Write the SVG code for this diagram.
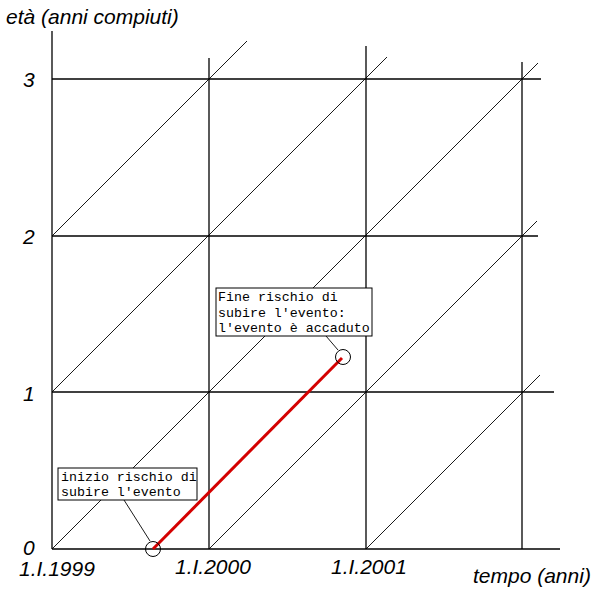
<svg xmlns="http://www.w3.org/2000/svg" width="600" height="600" viewBox="0 0 600 600">
<style>
.ax{stroke:#000;stroke-width:1.3;fill:none}
.dg{stroke:#000;stroke-width:0.9;fill:none}
.lbl{font-family:"Liberation Sans",Arial,sans-serif;font-style:italic;font-size:21px;fill:#000}
.box{fill:#fff;stroke:#000;stroke-width:1}
.mono{font-family:"Liberation Mono","Courier New",monospace;font-size:13.3px;fill:#000}
.circ{fill:none;stroke:#000;stroke-width:1}
</style>
<rect width="600" height="600" fill="#fff"/>
<g id="grid">
<line class="ax" x1="52" y1="31" x2="52" y2="549"/>
<line class="ax" x1="209" y1="58" x2="209" y2="549"/>
<line class="ax" x1="366" y1="46" x2="366" y2="549"/>
<line class="ax" x1="522" y1="62" x2="522" y2="549"/>
<line class="ax" x1="52" y1="549" x2="560" y2="549"/>
<line class="ax" x1="52" y1="392" x2="554" y2="392"/>
<line class="ax" x1="52" y1="236" x2="538" y2="236"/>
<line class="ax" x1="52" y1="79" x2="541" y2="79"/>
<line class="dg" x1="52" y1="549" x2="538" y2="63"/>
<line class="dg" x1="209" y1="549" x2="537" y2="221"/>
<line class="dg" x1="366" y1="549" x2="540" y2="375"/>
<line class="dg" x1="52" y1="392" x2="387" y2="57"/>
<line class="dg" x1="52" y1="236" x2="247" y2="41"/>
</g>
<g id="labels">
<text class="lbl" x="6" y="24">età (anni compiuti)</text>
<text class="lbl" x="23" y="87">3</text>
<text class="lbl" x="23" y="244">2</text>
<text class="lbl" x="23" y="401">1</text>
<text class="lbl" x="23" y="555">0</text>
<text class="lbl" x="19" y="576">1.I.1999</text>
<text class="lbl" x="175" y="574">1.I.2000</text>
<text class="lbl" x="331" y="574">1.I.2001</text>
<text class="lbl" x="473" y="583">tempo (anni)</text>
</g>
<g id="connectors">
<line x1="153" y1="549" x2="342" y2="358" stroke="#d40000" stroke-width="3"/>
<line x1="124" y1="500" x2="150" y2="541" stroke="#000" stroke-width="0.9"/>
<line x1="326" y1="336" x2="338" y2="350" stroke="#000" stroke-width="0.9"/>
</g>
<g id="start">
<circle class="circ" cx="153" cy="549" r="7.5"/>
<rect class="box" x="58" y="468" width="139" height="32"/>
<text class="mono" x="61" y="481">inizio rischio di</text>
<text class="mono" x="61" y="496">subire l'evento</text>
</g>
<g id="end">
<circle class="circ" cx="343" cy="357" r="7.5"/>
<rect class="box" x="216" y="288" width="156" height="48"/>
<text class="mono" x="218" y="301">Fine rischio di</text>
<text class="mono" x="218" y="317">subire l'evento:</text>
<text class="mono" x="218" y="332">l'evento è accaduto</text>
</g>
</svg>
